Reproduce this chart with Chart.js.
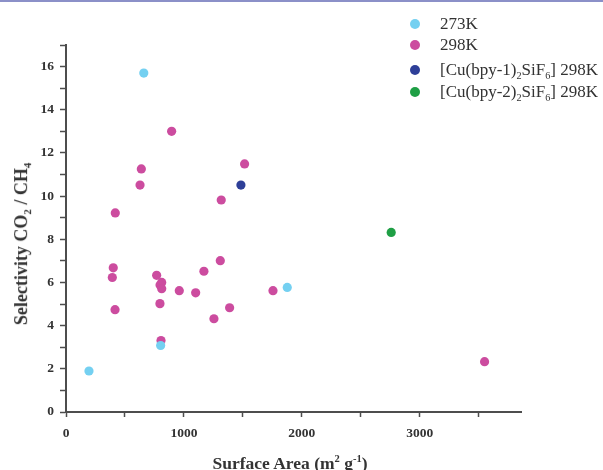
<!DOCTYPE html>
<html>
<head>
<meta charset="utf-8">
<script src="https://cdn.jsdelivr.net/npm/chart.js@4/dist/chart.umd.min.js"></script>
<style>
  html, body { margin: 0; padding: 0; background: #fff; }
  #wrap { position: relative; width: 603px; height: 470px; overflow: hidden; border-top: 2px solid #8b90c8; box-sizing: border-box; }
  #c { position: absolute; left: 0; top: -2px; }
  .serif { font-family: "Liberation Serif", "DejaVu Serif", serif; color: #333; }
  #ytitle { position: absolute; left: 22px; top: 242px; transform: translate(-50%, -50%) rotate(-90deg); white-space: nowrap; font-weight: bold; font-size: 18px; }
  #xtitle { position: absolute; left: 290px; top: 461px; transform: translate(-50%, -50%); white-space: nowrap; font-weight: bold; font-size: 17.5px; }
  sub, sup { font-size: 0.6em; }
  sub { vertical-align: -0.35em; }
  sup { vertical-align: 0.6em; }
  .leg { position: absolute; left: 410px; white-space: nowrap; font-size: 17px; height: 20px; line-height: 20px; }
  .leg .dot { position: absolute; left: 0; top: 5px; width: 10px; height: 10px; border-radius: 50%; }
  .leg .txt { position: absolute; left: 30px; top: 0; }
</style>
</head>
<body>
<div id="wrap">
  <canvas id="c" width="603" height="470"></canvas>
  <div id="ytitle" class="serif">Selectivity CO<sub>2</sub> / CH<sub>4</sub></div>
  <div id="xtitle" class="serif">Surface Area (m<sup>2</sup> g<sup>-1</sup>)</div>
  <div id="legend"></div>
</div>
<script>
// ---- data ----
const seriesNames = ["273K", "298K", "[Cu(bpy-1)<sub>2</sub>SiF<sub>6</sub>] 298K", "[Cu(bpy-2)<sub>2</sub>SiF<sub>6</sub>] 298K"];
const seriesLabels = ["273K", "298K", "[Cu(bpy-1)₂SiF₆] 298K", "[Cu(bpy-2)₂SiF₆] 298K"];
const seriesColors = ["#74d0f1", "#cc4c9f", "#2e3f98", "#1f9f45"];

const k273X = [660, 195, 803, 1877];
const k273Y = [15.7, 1.9, 3.08, 5.77];

const k298X = [896, 639, 628, 1515, 1317, 418, 401, 393, 416, 769, 812, 798, 812, 961, 1100, 1170, 1309, 1756, 1388, 1255, 797, 806, 3551];
const k298Y = [13.0, 11.26, 10.51, 11.49, 9.82, 9.22, 6.68, 6.23, 4.74, 6.33, 6.0, 5.88, 5.71, 5.62, 5.52, 6.52, 7.01, 5.62, 4.83, 4.32, 5.02, 3.31, 2.33];

const bpy1X = [1484];
const bpy1Y = [10.51];

const bpy2X = [2759];
const bpy2Y = [8.32];

const xTickValues = [0, 500, 1000, 1500, 2000, 2500, 3000, 3500];
const xTickLabels = ["0", "", "1000", "", "2000", "", "3000", ""];
const yTickValues = [0, 1, 2, 3, 4, 5, 6, 7, 8, 9, 10, 11, 12, 13, 14, 15, 16, 17];
const yTickLabels = ["0", "", "2", "", "4", "", "6", "", "8", "", "10", "", "12", "", "14", "", "16", ""];
const xMax = 3860;
const yMax = 17;

// ---- build ----
function pts(xs, ys) { return xs.map((x, i) => ({ x: x, y: ys[i] })); }
const seriesData = [pts(k273X, k273Y), pts(k298X, k298Y), pts(bpy1X, bpy1Y), pts(bpy2X, bpy2Y)];

const axisColor = '#4d4d4d';
const tickFont = { family: '"Liberation Serif", "DejaVu Serif", serif', size: 13.5, weight: 'bold' };

new Chart(document.getElementById('c'), {
  type: 'scatter',
  data: {
    datasets: seriesData.map((d, i) => ({
      label: seriesLabels[i],
      data: d,
      backgroundColor: seriesColors[i],
      borderColor: seriesColors[i],
      borderWidth: 0,
      pointRadius: 4.6,
      pointHoverRadius: 4.6
    }))
  },
  options: {
    responsive: false,
    animation: false,
    events: [],
    layout: { padding: { top: 45, right: 82, left: 0, bottom: 0 } },
    plugins: { legend: { display: false }, tooltip: { enabled: false } },
    scales: {
      x: {
        type: 'linear',
        min: 0, max: xMax,
        afterBuildTicks: s => { s.ticks = xTickValues.map(v => ({ value: v })); },
        afterFit: s => { s.height = 58; },
        border: { display: true, color: axisColor, width: 2 },
        grid: {
          display: true, drawOnChartArea: false, drawTicks: true, tickLength: 5, tickWidth: 1.5,
          tickColor: axisColor
        },
        ticks: {
          padding: 8, color: '#333', font: tickFont, maxRotation: 0, minRotation: 0, autoSkip: false,
          callback: (v) => xTickLabels[xTickValues.indexOf(v)] ?? ''
        }
      },
      y: {
        type: 'linear',
        min: 0, max: yMax,
        afterBuildTicks: s => { s.ticks = yTickValues.map(v => ({ value: v })); },
        afterFit: s => { s.width = 66; },
        border: { display: true, color: axisColor, width: 2 },
        grid: {
          display: true, drawOnChartArea: false, drawTicks: true, tickLength: 6, tickWidth: 1.5,
          tickColor: axisColor
        },
        ticks: {
          padding: 6, color: '#333', font: tickFont, autoSkip: false,
          callback: (v) => yTickLabels[yTickValues.indexOf(v)] ?? ''
        }
      }
    }
  }
});

// ---- HTML legend (for sub/superscripts) ----
const legendTops = [12, 33, 58, 80];
const leg = document.getElementById('legend');
seriesNames.forEach((name, i) => {
  const row = document.createElement('div');
  row.className = 'leg serif';
  row.style.top = legendTops[i] + 'px';
  row.innerHTML = '<span class="dot" style="background:' + seriesColors[i] + '"></span><span class="txt">' + name + '</span>';
  leg.appendChild(row);
});
</script>
</body>
</html>
